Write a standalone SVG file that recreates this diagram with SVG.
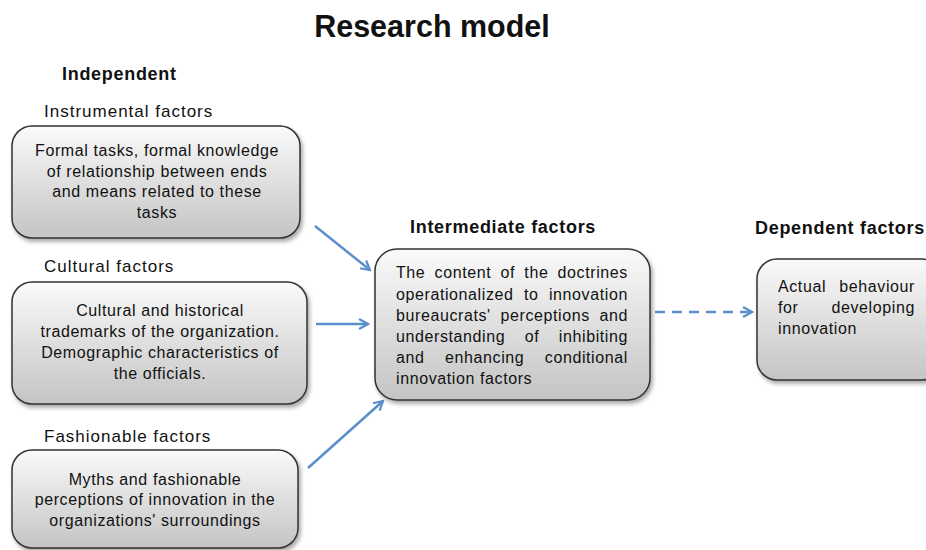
<svg xmlns="http://www.w3.org/2000/svg" width="926" height="550" viewBox="0 0 926 550">
<defs>
<linearGradient id="g" x1="0" y1="0" x2="0" y2="1">
<stop offset="0" stop-color="#fafafa"/>
<stop offset="1" stop-color="#c4c4c4"/>
</linearGradient>
<filter id="sh" x="-10%" y="-10%" width="125%" height="130%">
<feGaussianBlur in="SourceAlpha" stdDeviation="2"/>
<feOffset dx="2" dy="3"/>
<feComponentTransfer><feFuncA type="linear" slope="0.35"/></feComponentTransfer>
<feMerge><feMergeNode/><feMergeNode in="SourceGraphic"/></feMerge>
</filter>
<marker id="ah" viewBox="0 0 12 12" refX="10" refY="6" markerWidth="12" markerHeight="12" markerUnits="userSpaceOnUse" orient="auto">
<path d="M1,1 L10,6 L1,11" fill="none" stroke="#5b8fcc" stroke-width="2.2"/>
</marker>
</defs>
<style>
.box{fill:url(#g);stroke:#333;stroke-width:1.5;filter:url(#sh)}
text{font-family:"Liberation Sans",Arial,sans-serif;fill:#111}
.t{font-size:16px;letter-spacing:0.6px}
.c{text-anchor:middle}
.h{font-size:17px;letter-spacing:1px}
.hb{font-size:18px;letter-spacing:0.7px;font-weight:bold}
.conn{stroke:#5b8fcc;stroke-width:2.5;fill:none}
</style>
<text x="432" y="37" font-weight="bold" text-anchor="middle" font-size="30.5">Research model</text>
<text x="62" y="80" class="hb">Independent</text>
<text x="44" y="117" class="h">Instrumental factors</text>
<text x="44" y="272" class="h">Cultural factors</text>
<text x="44" y="442" class="h">Fashionable factors</text>
<text x="410" y="233" class="hb">Intermediate factors</text>
<text x="755" y="234" class="hb">Dependent factors</text>

<g id="connectors">
<line x1="315" y1="226" x2="370" y2="270" class="conn" marker-end="url(#ah)"/>
<line x1="316" y1="324" x2="368" y2="324" class="conn" marker-end="url(#ah)"/>
<line x1="308" y1="468" x2="383" y2="401" class="conn" marker-end="url(#ah)"/>
<line x1="655" y1="312" x2="752" y2="312" class="conn" stroke-dasharray="10,7" marker-end="url(#ah)"/>
</g>

<g id="instrumental">
<rect x="12" y="126" width="288" height="112" rx="20" class="box"/>
<text class="t c" x="157" y="156">Formal tasks, formal knowledge</text>
<text class="t c" x="157" y="177">of relationship between ends</text>
<text class="t c" x="157" y="197">and means related to these</text>
<text class="t c" x="157" y="218">tasks</text>
</g>
<g id="cultural">
<rect x="12" y="282" width="295" height="122" rx="20" class="box"/>
<text class="t c" x="160" y="316">Cultural and historical</text>
<text class="t c" x="160" y="337">trademarks of the organization.</text>
<text class="t c" x="160" y="358">Demographic characteristics of</text>
<text class="t c" x="160" y="379">the officials.</text>
</g>
<g id="fashionable">
<rect x="12" y="450" width="286" height="98" rx="20" class="box"/>
<text class="t c" x="155" y="485">Myths and fashionable</text>
<text class="t c" x="155" y="505">perceptions of innovation in the</text>
<text class="t c" x="155" y="526">organizations' surroundings</text>
</g>
<g id="intermediate">
<rect x="375" y="249" width="275" height="151" rx="22" class="box"/>
<text class="t" x="396" y="278" word-spacing="4.2">The content of the doctrines</text>
<text class="t" x="396" y="300" word-spacing="5.4">operationalized to innovation</text>
<text class="t" x="396" y="321" word-spacing="4.7">bureaucrats' perceptions and</text>
<text class="t" x="396" y="342" word-spacing="14.5">understanding of inhibiting</text>
<text class="t" x="396" y="363" word-spacing="15.5">and enhancing conditional</text>
<text class="t" x="396" y="384">innovation factors</text>
</g>
<g id="dependent">
<rect x="757" y="259" width="185" height="121" rx="20" class="box"/>
<text class="t" x="778" y="292" word-spacing="8.2">Actual behaviour</text>
<text class="t" x="778" y="313" word-spacing="28">for developing</text>
<text class="t" x="778" y="334">innovation</text>
</g>
</svg>
